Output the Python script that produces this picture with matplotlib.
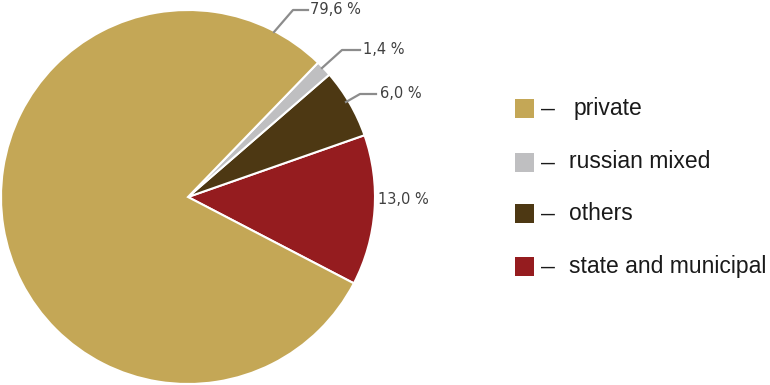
import matplotlib
matplotlib.use("Agg")
import matplotlib.pyplot as plt
from matplotlib.patches import Rectangle

categories = ["private", "russian mixed", "others", "state and municipal"]
values = [79.6, 1.4, 6.0, 13.0]
labels = ["79,6 %", "1,4 %", "6,0 %", "13,0 %"]
colors = ["#C4A756", "#BFBFC1", "#4D3813", "#951C1F"]

W, H = 770, 385
fig = plt.figure(figsize=(W / 100, H / 100), dpi=100)
ax = fig.add_axes([0, 0, 1, 1])
ax.set_xlim(0, W)
ax.set_ylim(0, H)
ax.set_aspect("equal")
ax.axis("off")

cx, cy, r = 188, 188, 187
order = [3, 2, 1, 0]
wedges, _ = ax.pie([values[i] for i in order], colors=[colors[i] for i in order],
                   startangle=-27.5, counterclock=True, center=(cx, cy), radius=r,
                   wedgeprops=dict(edgecolor="white", linewidth=1.5))
ax.set_xlim(0, W)
ax.set_ylim(0, H)

# labels with leader lines (pixel coords, y up)
lc = "#8C8C8C"
tc = "#404040"
fs = 10.5
# 79,6
ax.plot([274, 293, 308], [H - 32, H - 10, H - 10], color=lc, lw=1.6)
ax.text(310, H - 10, labels[0], fontsize=fs, color=tc, va="center", ha="left")
# 1,4
ax.plot([322, 342, 360], [H - 68, H - 50, H - 50], color=lc, lw=1.6)
ax.text(363, H - 50, labels[1], fontsize=fs, color=tc, va="center", ha="left")
# 6,0
ax.plot([346, 360, 376], [H - 102, H - 94, H - 94], color=lc, lw=1.6)
ax.text(380, H - 94, labels[2], fontsize=fs, color=tc, va="center", ha="left")
# 13,0
ax.text(378, H - 199, labels[3], fontsize=fs, color=tc, va="center", ha="left")

# legend
ys = [108, 162, 213, 266]
tx = [574, 569, 569, 569]
for y, c, t, x in zip(ys, colors, categories, tx):
    ax.add_patch(Rectangle((515, H - y - 9.5), 19, 19, facecolor=c, edgecolor="none"))
    ax.text(541, H - y - 1.5, "\u2014", fontsize=10, color="#1a1a1a", va="center", ha="left",
            family="Liberation Sans", fontweight="bold")
    ax.text(x, H - y, t, fontsize=16.5, color="#1a1a1a", va="center", ha="left",
            family="Liberation Sans")

fig.savefig("out.png", dpi=100)
